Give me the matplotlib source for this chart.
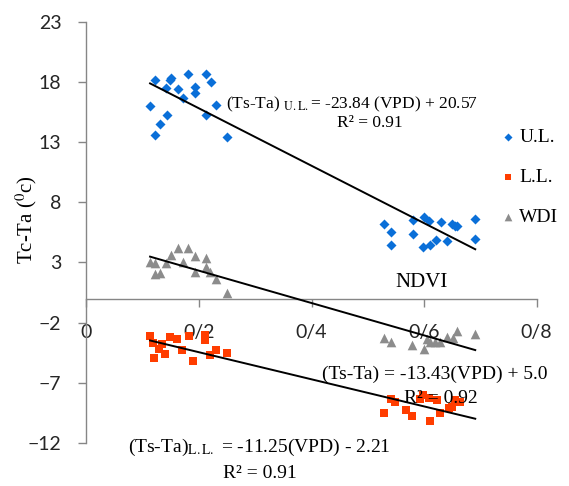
import numpy as np
import matplotlib
matplotlib.use("Agg")
import matplotlib.pyplot as plt

plt.rcParams['mathtext.fontset'] = 'stix'

# Upper limit (U.L.) points
ul_x = [0.122, 0.151, 0.148, 0.181, 0.212, 0.221, 0.141, 0.163, 0.192, 0.192,
        0.171, 0.113, 0.230, 0.143, 0.212, 0.131, 0.122, 0.250,
        0.529, 0.541, 0.541, 0.580, 0.580, 0.600, 0.609, 0.630, 0.649, 0.659,
        0.691, 0.691, 0.599, 0.611, 0.621, 0.641, 0.655]
ul_y = [18.13, 18.34, 18.13, 18.67, 18.62, 18.01, 17.47, 17.44, 17.58, 17.06,
        16.70, 15.96, 16.07, 15.25, 15.27, 14.51, 13.62, 13.40,
        6.19, 5.53, 4.42, 6.54, 5.36, 6.76, 6.48, 6.35, 6.21, 6.05,
        6.60, 4.98, 4.26, 4.46, 4.89, 4.79, 5.99]

# Lower limit (L.L.) points
ll_x = [0.113, 0.119, 0.134, 0.128, 0.140, 0.120, 0.148, 0.160, 0.169, 0.190,
        0.183, 0.211, 0.211, 0.220, 0.230, 0.250,
        0.528, 0.541, 0.548, 0.568, 0.578, 0.593, 0.599, 0.608, 0.610, 0.628,
        0.645, 0.623, 0.655, 0.649, 0.664]
ll_y = [-3.07, -3.67, -3.76, -4.22, -4.64, -4.94, -3.21, -3.35, -4.31, -5.21,
        -3.12, -3.48, -3.01, -4.66, -4.25, -4.53,
        -9.52, -8.37, -8.56, -9.25, -9.79, -8.37, -8.01, -8.29, -10.21, -9.47,
        -9.11, -8.43, -8.43, -8.97, -8.56]

# WDI points
wdi_x = [0.113, 0.122, 0.122, 0.131, 0.141, 0.151, 0.163, 0.181, 0.192, 0.171,
         0.192, 0.212, 0.212, 0.220, 0.230, 0.250,
         0.528, 0.541, 0.578, 0.600, 0.611, 0.620, 0.628, 0.640, 0.659, 0.652,
         0.691, 0.605]
wdi_y = [3.05, 2.97, 2.07, 2.15, 2.97, 3.66, 4.21, 4.21, 3.52, 3.05,
         2.20, 3.33, 2.64, 2.20, 1.60, 0.50,
         -3.29, -3.62, -3.84, -4.22, -3.62, -3.57, -3.62, -3.21, -2.66, -3.29,
         -2.93, -3.35]

# regression coefficients (slope, intercept)
ul_fit = (-23.84, 20.57)
ll_fit = (-11.25, -2.21)
wdi_fit = (-13.43, 5.0)

x_ticks = [0, 0.2, 0.4, 0.6, 0.8]
x_tick_labels = ['0', '0/2', '0/4', '0/6', '0/8']
y_ticks = [-12, -7, -2, 3, 8, 13, 18, 23]

fig = plt.figure(figsize=(5.69, 4.86), dpi=100)
ax = fig.add_axes([0.152, 0.0885, 0.791, 0.8668])

ax.scatter(ul_x, ul_y, marker='D', s=26, color='#0A6FD8', linewidths=0, label='U.L.', zorder=3)
ax.scatter(ll_x, ll_y, marker='s', s=34, color='#FF3D00', linewidths=0, label='L.L.', zorder=3)
ax.scatter(wdi_x, wdi_y, marker='^', s=48, color='#8C8C8C', linewidths=0, label='WDI', zorder=3)

# trendlines over the common VPD range
all_x = ul_x + ll_x + wdi_x
xx = np.array([min(all_x), max(all_x)])
for m, b in [ul_fit, ll_fit, wdi_fit]:
    ax.plot(xx, m * xx + b, color='black', linewidth=1.4, zorder=4)

ax.set_xlim(0, 0.8)
ax.set_ylim(-12, 23)
ax.set_xticks(x_ticks)
ax.set_xticklabels(x_tick_labels)
ax.set_yticks(y_ticks)

for s in ['top', 'right']:
    ax.spines[s].set_visible(False)
ax.spines['bottom'].set_position(('data', 0))
ax.spines['left'].set_position(('data', 0))
for s in ['bottom', 'left']:
    ax.spines[s].set_color('#868686')
    ax.spines[s].set_linewidth(1.0)

ax.tick_params(axis='both', colors='#868686', labelcolor='#262626',
               labelsize=14, length=6, width=1.0, direction='out')
for lab in ax.get_xticklabels() + ax.get_yticklabels():
    lab.set_family('Lato')
ax.tick_params(axis='x', pad=12)
ax.tick_params(axis='y', pad=12)

ax.set_ylabel('Tc-Ta ($^{0}$c)', family='Liberation Serif', fontsize=15, labelpad=2)
ax.yaxis.set_label_coords(-0.105, 0.53)
ax.text(0.595, 1.35, 'NDVI', family='Liberation Serif', fontsize=15, ha='center', va='center')

serif = dict(family='Liberation Serif', color='black')
ax.text(0.248, 16.1, r'(Ts-Ta) $_{\mathrm{U.L.}}$= -23.84 (VPD) + 20.57', ha='left', va='center',
        fontsize=12.5, **serif)
ax.text(0.504, 14.6, 'R² = 0.91', ha='center', va='center', fontsize=12.5, **serif)
ax.text(0.419, -6.3, '(Ts-Ta) = -13.43(VPD) + 5.0', ha='left', va='center', fontsize=14, **serif)
ax.text(0.630, -8.3, 'R² = 0.92', ha='center', va='center', fontsize=14, **serif)
ax.text(0.073, -12.4, r'(Ts-Ta)$_{\mathrm{L.L.}}$ = -11.25(VPD) - 2.21', ha='left', va='center',
        clip_on=False, fontsize=14, **serif)
ax.text(0.308, -14.5, 'R² = 0.91', ha='center', va='center', clip_on=False, fontsize=14, **serif)

leg = ax.legend(loc='upper left', bbox_to_anchor=(0.897, 0.765), frameon=False,
                prop={'family': 'Liberation Serif', 'size': 14},
                handletextpad=0.1, labelspacing=1.15, handlelength=1.0,
                borderaxespad=0, markerscale=0.8)

fig.savefig('out.png', dpi=100)
